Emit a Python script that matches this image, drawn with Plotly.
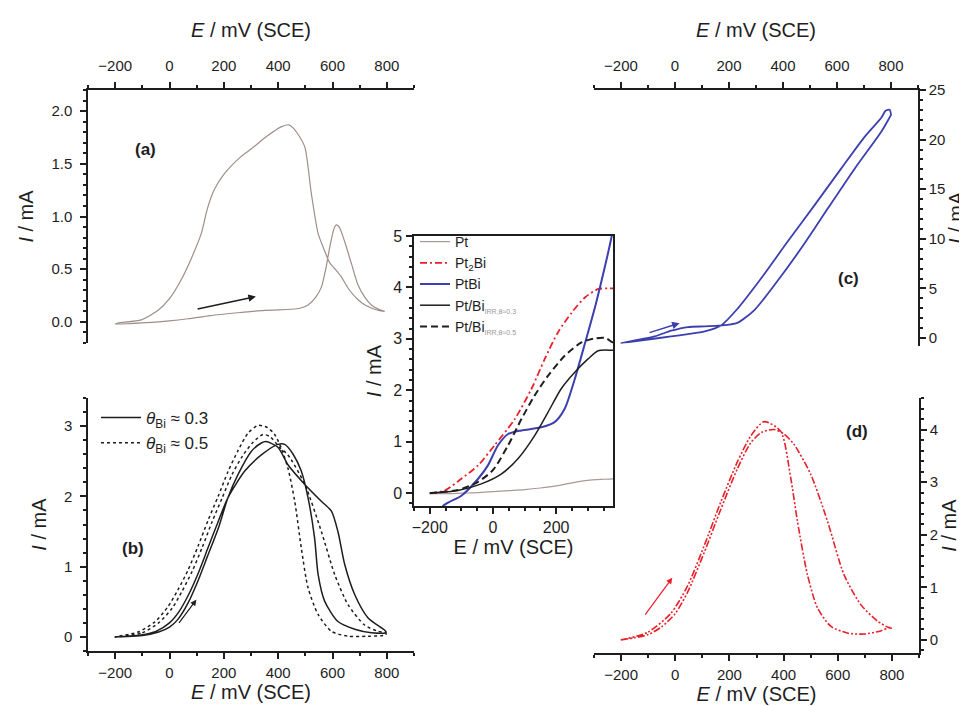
import plotly.graph_objects as go

W, H = 967, 706

# ---- panel (a): Pt, CV ----
e_a_fwd = [-200, -100, 0, 68, 150, 264, 350, 449, 480, 510, 540, 559, 575, 590, 605, 614, 625, 645, 670, 694, 720, 743, 770, 792]
i_a_fwd = [-0.02, -0.01, 0.01, 0.03, 0.06, 0.09, 0.11, 0.12, 0.13, 0.16, 0.24, 0.33, 0.5, 0.71, 0.88, 0.92, 0.9, 0.76, 0.55, 0.35, 0.23, 0.16, 0.12, 0.1]
e_a_rev = [792, 770, 755, 720, 694, 660, 632, 610, 590, 570, 547, 522, 498, 473, 455, 440, 411, 363, 300, 264, 200, 166, 140, 117, 80, 43, 0, -42, -104, -190, -200]
i_a_rev = [0.1, 0.11, 0.12, 0.16, 0.21, 0.31, 0.43, 0.5, 0.56, 0.68, 0.84, 1.22, 1.66, 1.78, 1.84, 1.87, 1.85, 1.77, 1.64, 1.57, 1.40, 1.26, 1.08, 0.84, 0.6, 0.40, 0.22, 0.11, 0.02, -0.01, -0.02]

# ---- panel (b): Pt/Bi irr, two coverages ----
e_b03_fwd = [-200, -100, -40, 0, 31, 68, 105, 140, 180, 215, 252, 301, 338, 355, 399, 436, 498, 559, 596, 620, 645, 682, 731, 796]
i_b03_fwd = [0.0, 0.02, 0.07, 0.14, 0.25, 0.48, 0.8, 1.15, 1.55, 1.98, 2.31, 2.64, 2.76, 2.78, 2.70, 2.45, 2.17, 1.93, 1.79, 1.5, 1.03, 0.6, 0.27, 0.08]
e_b03_rev = [796, 743, 682, 620, 571, 547, 534, 510, 485, 455, 424, 399, 338, 277, 215, 180, 140, 105, 70, 35, 0, -50, -120, -200]
i_b03_rev = [0.06, 0.06, 0.11, 0.22, 0.51, 0.89, 1.41, 1.98, 2.36, 2.6, 2.74, 2.74, 2.59, 2.36, 1.98, 1.65, 1.25, 0.9, 0.6, 0.36, 0.2, 0.08, 0.02, 0.0]
e_b05_fwd = [-200, -100, -40, 10, 46, 83, 120, 157, 194, 230, 268, 305, 344, 370, 405, 436, 498, 559, 608, 657, 718, 767, 796]
i_b05_fwd = [0.0, 0.06, 0.2, 0.41, 0.65, 0.93, 1.27, 1.64, 1.98, 2.31, 2.57, 2.76, 2.88, 2.85, 2.7, 2.59, 2.17, 1.5, 0.89, 0.46, 0.17, 0.08, 0.06]
e_b05_rev = [796, 731, 657, 596, 547, 510, 485, 461, 436, 410, 387, 360, 326, 289, 252, 215, 179, 142, 105, 68, 31, -6, -55, -116, -200]
i_b05_rev = [0.03, 0.01, 0.01, 0.08, 0.32, 0.70, 1.27, 1.93, 2.40, 2.7, 2.88, 2.98, 3.01, 2.90, 2.65, 2.35, 2.0, 1.66, 1.29, 0.95, 0.67, 0.43, 0.21, 0.07, 0.0]

# ---- panel (c): PtBi ----
e_c_fwd = [-200, -75, -14, 48, 110, 159, 200, 233, 295, 369, 468, 567, 666, 764, 790, 800]
i_c_fwd = [-0.5, 0.17, 0.74, 1.11, 1.18, 1.25, 1.35, 1.55, 2.85, 5.37, 9.07, 13.1, 17.1, 20.8, 22.0, 22.5]
e_c_rev = [800, 795, 780, 764, 703, 616, 517, 418, 320, 233, 172, 110, 48, -14, -100, -200]
i_c_rev = [22.5, 23.0, 22.9, 22.2, 20.3, 17.1, 13.4, 9.75, 6.05, 3.0, 1.3, 0.67, 0.4, 0.17, -0.15, -0.5]

# ---- panel (d): Pt2Bi ----
e_d_fwd = [-200, -150, -100, -50, 0, 45, 106, 168, 229, 279, 320, 365, 400, 438, 500, 562, 623, 685, 746, 789, 800]
i_d_fwd = [0.0, 0.04, 0.1, 0.25, 0.5, 0.9, 1.65, 2.48, 3.25, 3.75, 3.95, 4.0, 3.92, 3.72, 3.15, 2.26, 1.24, 0.67, 0.36, 0.23, 0.22]
e_d_rev = [800, 793, 759, 697, 635, 574, 525, 488, 451, 426, 389, 328, 279, 229, 168, 106, 45, -17, -103, -201]
i_d_rev = [0.22, 0.24, 0.17, 0.11, 0.13, 0.26, 0.61, 1.24, 2.26, 3.09, 3.97, 4.15, 3.88, 3.38, 2.62, 1.78, 1.02, 0.5, 0.14, 0.0]

# ---- inset: forward scans ----
e_pt = [-200, -150, -100, -50, 0, 50, 100, 150, 200, 250, 300, 350, 385]
i_pt = [-0.01, -0.01, 0.0, 0.01, 0.03, 0.05, 0.07, 0.1, 0.14, 0.2, 0.25, 0.27, 0.28]
e_pt2bi = [-200, -153, -100, -47, 5, 69, 122, 164, 206, 249, 292, 334, 364, 385]
i_pt2bi = [0.0, 0.05, 0.28, 0.54, 0.93, 1.44, 2.03, 2.61, 3.13, 3.51, 3.81, 3.97, 3.98, 3.98]
e_ptbi = [-200, -158, -100, -47, -16, 16, 48, 90, 153, 195, 227, 259, 292, 324, 355, 376, 385]
i_ptbi = [-0.75, -0.25, -0.05, 0.28, 0.54, 0.93, 1.15, 1.22, 1.28, 1.38, 1.64, 2.22, 2.93, 3.64, 4.42, 5.0, 5.3]
e_bi03 = [-200, -111, -37, 26, 79, 132, 174, 216, 259, 301, 333, 376, 385]
i_bi03 = [0.0, 0.05, 0.18, 0.37, 0.67, 1.12, 1.57, 2.03, 2.35, 2.61, 2.77, 2.78, 2.78]
e_bi05 = [-200, -111, -47, 0, 48, 90, 132, 174, 227, 280, 324, 355, 376, 385]
i_bi05 = [0.0, 0.06, 0.22, 0.45, 0.93, 1.44, 1.9, 2.28, 2.67, 2.93, 3.01, 3.02, 2.94, 2.9]

BLACK = "#1e1e1e"
BLUE = "#3c3fae"
RED = "#e8202a"
FONT = "Liberation Sans, Arial, sans-serif"
SMOOTH = 0.7


def xdom(p0, p1):
    return [p0 / W, p1 / W]


def ydom(top, bottom):
    return [1 - bottom / H, 1 - top / H]


def curve(ex, iy, xa, ya, ln, **kw):
    return go.Scatter(x=ex, y=iy, xaxis=xa, yaxis=ya, mode="lines",
                      line=dict(ln, shape="spline", smoothing=SMOOTH), **kw)


fig = go.Figure()

fig.add_trace(curve(e_a_fwd + e_a_rev, i_a_fwd + i_a_rev, "x", "y",
                    dict(color="#9e8e8a", width=1.2), showlegend=False))

fig.add_trace(curve(e_b03_fwd + e_b03_rev, i_b03_fwd + i_b03_rev, "x2", "y2",
                    dict(color=BLACK, width=1.5),
                    name="<i>θ</i><sub>Bi</sub> ≈ 0.3", legend="legend"))
fig.add_trace(curve(e_b05_fwd + e_b05_rev, i_b05_fwd + i_b05_rev, "x2", "y2",
                    dict(color=BLACK, width=1.5, dash="dot"),
                    name="<i>θ</i><sub>Bi</sub> ≈ 0.5", legend="legend"))

fig.add_trace(curve(e_c_fwd + e_c_rev, i_c_fwd + i_c_rev, "x3", "y3",
                    dict(color=BLUE, width=1.8), showlegend=False))

fig.add_trace(curve(e_d_fwd + e_d_rev, i_d_fwd + i_d_rev, "x4", "y4",
                    dict(color=RED, width=1.6, dash="7px,2px,2px,2px,2px,2px"), showlegend=False))

sub = '<sub><span style="font-size:7px;color:#999">IRR,θ≈{}</span></sub>'
inset = [
    (e_pt, i_pt, "Pt", dict(color="#a89a96", width=1.2)),
    (e_pt2bi, i_pt2bi, "Pt<sub>2</sub>Bi", dict(color=RED, width=1.8, dash="7px,3px,2px,3px")),
    (e_ptbi, i_ptbi, "PtBi", dict(color=BLUE, width=2)),
    (e_bi03, i_bi03, "Pt/Bi" + sub.format("0.3"), dict(color=BLACK, width=1.5)),
    (e_bi05, i_bi05, "Pt/Bi" + sub.format("0.5"), dict(color=BLACK, width=2, dash="7px,4px")),
]
for ex, iy, nm, ln in inset:
    fig.add_trace(curve(ex, iy, "x5", "y5", ln, name=nm, legend="legend2"))

tickfont = dict(family=FONT, size=15, color=BLACK)
titlefont = dict(family=FONT, size=20, color=BLACK)
common = dict(showline=True, linecolor=BLACK, linewidth=1.5, ticks="outside", ticklen=6,
              tickwidth=1.5, tickcolor=BLACK, showgrid=False, zeroline=False,
              tickfont=tickfont, automargin=False)

etitle = "<i>E</i> / mV (SCE)"
ititle = "<i>I</i> / mA"


def eaxis(dom, side, anchor):
    top = side == "top"
    return dict(common, domain=dom, side=side, anchor=anchor, range=[-300, 900], tick0=-200, dtick=200,
                ticklabelstandoff=5 if top else 1,
                minor=dict(ticks="outside", ticklen=3, dtick=100, tick0=-300, tickcolor=BLACK),
                title=dict(text=etitle, font=titlefont, standoff=14 if top else 2))


def iaxis(dom, side, anchor, rng, dt, mdt, fmt=None):
    left = side == "left"
    d = dict(common, domain=dom, side=side, anchor=anchor, range=rng, tick0=0, dtick=dt,
             ticklabelstandoff=5 if left else 0,
             minor=dict(ticks="outside", ticklen=3, dtick=mdt, tick0=0, tickcolor=BLACK),
             title=dict(text=ititle, font=titlefont, standoff=12 if left else 1))
    if fmt:
        d["tickformat"] = fmt
    return d


fig.update_layout(
    width=W, height=H,
    margin=dict(l=0, r=0, t=0, b=0),
    paper_bgcolor="white", plot_bgcolor="rgba(0,0,0,0)",
    font=dict(family=FONT, color=BLACK),
    xaxis=eaxis(xdom(80, 406), "top", "y"),
    yaxis=iaxis(ydom(82, 335), "left", "x", [-0.2, 2.2], 0.5, 0.1, ".1f"),
    xaxis2=eaxis(xdom(80, 406), "bottom", "y2"),
    yaxis2=iaxis(ydom(390, 643), "left", "x2", [-0.2, 3.4], 1, 0.2),
    xaxis3=eaxis(xdom(586, 910), "top", "y3"),
    yaxis3=iaxis(ydom(82, 337.5), "right", "x3", [-0.75, 25], 5, 1),
    xaxis4=eaxis(xdom(586, 911), "bottom", "y4"),
    yaxis4=iaxis(ydom(390, 645), "right", "x4", [-0.25, 4.6], 1, 0.2),
    xaxis5=dict(common, domain=xdom(406, 605), anchor="y5", range=[-250, 380], tick0=-200, dtick=200,
                mirror=True, tickfont=dict(family=FONT, size=16, color=BLACK), ticklabelstandoff=0,
                minor=dict(ticks="outside", ticklen=3, dtick=50, tick0=0, tickcolor=BLACK),
                title=dict(text="E / mV (SCE)", font=titlefont, standoff=0)),
    yaxis5=dict(common, domain=ydom(228, 498), anchor="x5", range=[-0.25, 5], tick0=0, dtick=1,
                mirror=True, tickfont=dict(family=FONT, size=16, color=BLACK), ticklabelstandoff=1,
                minor=dict(ticks="outside", ticklen=3, dtick=0.2, tick0=0, tickcolor=BLACK),
                title=dict(text=ititle, font=titlefont, standoff=6)),
    legend=dict(x=88 / W, y=1 - 392 / H, xanchor="left", yanchor="top", bgcolor="rgba(0,0,0,0)",
                font=dict(family=FONT, size=17, color=BLACK), tracegroupgap=0, itemwidth=40),
    legend2=dict(x=407 / W, y=1 - 218 / H, xanchor="left", yanchor="top", bgcolor="rgba(0,0,0,0)",
                 font=dict(family=FONT, size=14, color=BLACK), tracegroupgap=0, itemwidth=30),
)

labels = [("(a)", 125, 130), ("(b)", 112, 552), ("(c)", 853, 270), ("(d)", 862, 423)]
for txt, px, py in labels:
    fig.add_annotation(text="<b>" + txt + "</b>", x=px / W, y=1 - py / H, xref="paper", yref="paper",
                       showarrow=False, font=dict(family=FONT, size=17, color=BLACK))

arrows = [
    ("x", "y", 98, 0.12, 318, 0.24, BLACK, 1.5),
    ("x2", "y2", 31, 0.18, 99, 0.53, BLACK, 1.2),
    ("x3", "y3", -100, 0.5, 17, 1.5, BLUE, 1.5),
    ("x4", "y4", -115, 0.45, -11, 1.18, RED, 1.2),
]
for xr, yr, x0, y0, x1, y1, col, wd in arrows:
    fig.add_annotation(x=x1, y=y1, ax=x0, ay=y0, xref=xr, yref=yr, axref=xr, ayref=yr,
                       showarrow=True, arrowhead=2, arrowsize=1, arrowwidth=wd, arrowcolor=col, text="")

fig.write_html("out.html")
